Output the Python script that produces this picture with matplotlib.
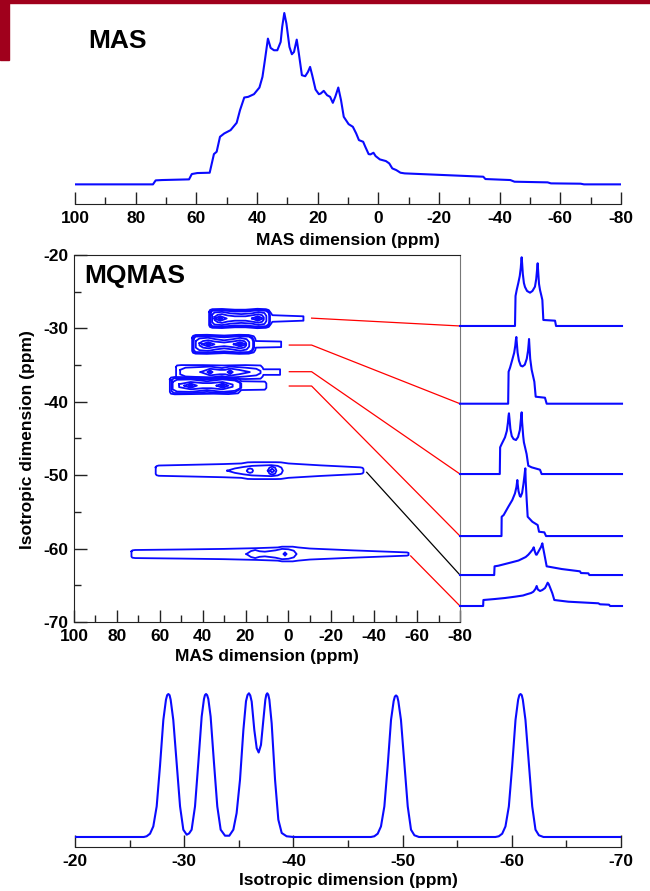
import numpy as np
import matplotlib.pyplot as plt
from matplotlib.patches import Rectangle

plt.rcParams['font.family'] = ['Liberation Sans', 'DejaVu Sans']
plt.rcParams['font.weight'] = 'bold'
plt.rcParams['axes.unicode_minus'] = False

W, H = 650, 891

# ---- 1D MAS spectrum (ppm, intensity a.u.)
mas_ppm = [100, 74.3, 73.4, 71.3, 62.4, 61.5, 59.7, 55.6, 54.9, 54.2, 53.3, 52.2, 50.8,
           48.7, 46.7, 45.6, 44.2, 42.9, 41.0, 39.2, 38.2, 37.4, 36.4, 35.5, 34.4, 33.3,
           32.2, 31.7, 31.0, 30.3, 29.3, 28.5, 27.8, 26.9, 26.2, 25.2, 24.1, 23.2, 22.5,
           21.8, 20.7, 19.6, 19.0, 18.0, 16.9, 15.9, 15.0, 14.2, 13.2, 12.3, 11.4, 9.8,
           8.4, 7.3, 6.4, 5.0, 4.3, 3.2, 2.6, 1.6, 0.9, -0.5, -2.5, -3.6, -4.6, -5.9,
           -7.3, -8.7, -34.6, -35.3, -43.5, -44.9, -55.8, -56.9, -66.7, -67.8, -80]
mas_int = [0, 0, 12, 13, 15, 31, 34, 35, 63, 91, 98, 143, 153,
           163, 185, 223, 261, 263, 271, 291, 323, 373, 438, 410, 403, 403,
           428, 473, 515, 483, 413, 391, 398, 435, 393, 328, 325, 338, 353,
           328, 285, 271, 273, 281, 268, 263, 245, 263, 291, 253, 203, 181,
           173, 153, 133, 128, 113, 91, 90, 95, 85, 75, 70, 63, 48, 43,
           35, 33, 23, 16, 13, 8, 6, 3, 2, 0, 0]

# ---- isotropic projection (ppm, % of max)
iso_ppm = [-20.0, -26.3, -26.56, -26.87, -27.17, -27.48, -27.78, -28.09, -28.33, -28.44,
           -28.55, -28.66, -28.76, -29.0, -29.31, -29.62, -29.92, -30.23, -30.45, -30.68,
           -30.99, -31.29, -31.6, -31.81, -31.9, -32.0, -32.1, -32.21, -32.42, -32.73,
           -33.03, -33.34, -33.74, -34.13, -34.5, -34.8, -35.11, -35.42, -35.66, -35.8,
           -35.93, -36.05, -36.18, -36.42, -36.64, -36.82, -37.03, -37.25, -37.43, -37.52,
           -37.61, -37.7, -37.8, -38.01, -38.32, -38.62, -38.93, -39.38, -40.0,
           -47.1, -47.41, -47.72, -48.02, -48.33, -48.63, -48.94, -49.18, -49.29, -49.40,
           -49.51, -49.61, -49.85, -50.16, -50.47, -50.77, -51.08, -51.5,
           -58.5, -58.81, -59.12, -59.42, -59.73, -60.03, -60.34, -60.58, -60.69, -60.80,
           -60.91, -61.01, -61.25, -61.56, -61.87, -62.17, -62.48, -62.9, -70.0]
iso_int = [0, 0, 0.5, 2.3, 7.4, 21.4, 49.3, 81.9, 96.0, 99.2,
           100, 99.2, 96.0, 81.9, 51.6, 21.4, 5.1, 1.6, 2.5, 5.1,
           21.4, 51.6, 84.2, 96.5, 99.2, 100, 99.2, 96.5, 84.2, 51.6,
           21.4, 5.1, 0.9, 0.9, 5.1, 16.7, 40.0, 74.9, 95.0, 99.3,
           100.5, 99.0, 94.7, 74.9, 62.1, 59.1, 64.4, 81.9, 96.0, 99.5,
           100.5, 99.5, 96.0, 79.5, 40.0, 12.1, 2.8, 0.5, 0,
           0, 0.5, 2.3, 7.4, 21.4, 49.3, 81.9, 95.0, 98.2, 99,
           98.2, 95.0, 81.9, 51.6, 21.4, 5.1, 1.2, 0,
           0, 0.5, 2.3, 7.4, 21.4, 49.3, 81.9, 96.0, 99.2, 100,
           99.2, 96.0, 81.9, 51.6, 21.4, 5.1, 1.2, 0, 0]

# ---- slices (ppm, height a.u.) and their baselines on the isotropic scale
slice_base = [-29.67, -40.26, -49.84, -58.29, -63.6, -67.82]
slice1_ppm = [100, 38.9, 38.3, 37.0, 35.2, 33.6, 32.5, 31.9, 31.5, 31.0, 30.2, 29.0, 27.8,
              25.5, 22.2, 19.5, 16.7, 15.3, 14.4, 13.7, 13.1, 12.2, 11.1, 9.5, 8.5, 7.4,
              -5.6, -6.7, -80]
slice1_int = [0, 0, 30, 36, 43, 50, 58, 65, 68.7, 63, 52, 43, 39,
              35, 33.3, 35, 39.3, 47, 56, 62.7, 54, 42, 36, 30, 26, 6,
              5.3, 0, 0]
slice2_ppm = [100, 46.5, 46.0, 44.4, 41.9, 39.8, 38.6, 37.9, 37.4, 36.9, 36.0, 34.5, 32.5,
              30.5, 28.0, 25.8, 24.4, 23.7, 23.3, 22.8, 22.0, 20.4, 17.4, 15.9, 5.6, 3.7, -80]
slice2_int = [0, 0, 32, 36, 44, 51, 58, 64, 66.7, 61, 51, 43, 38,
              37.3, 39, 45, 53, 60, 64.7, 57, 45, 34, 22, 7, 6, 0, 0]
slice3_ppm = [100, 55.8, 55.4, 53.7, 50.0, 48.0, 46.8, 46.1, 45.6, 45.0, 44.0, 42.5, 40.5,
              37.8, 35.5, 33.5, 32.3, 31.5, 31.0, 29.8, 29.0, 26.0, 24.1, 20.4, 11.1, 9.3, -80]
slice3_int = [0, 0, 26.7, 30, 36.7, 43, 51, 58, 60.7, 55, 45, 38, 35,
              34, 37, 44, 55, 61.7, 52, 38, 31.7, 20, 8.3, 6.7, 4.3, 0, 0]
slice4_ppm = [100, 53.9, 53.7, 51.5, 46.3, 41.9, 38.9, 37.3, 36.6, 36.3, 35.9, 35.0, 33.5,
              32.6, 31.0, 29.5, 28.3, 27.7, 27.4, 27.0, 25.9, 24.8, 19.6, 13.7, 12.2, 6.3,
              4.4, -80]
slice4_int = [0, 0, 19.3, 21, 29.3, 36, 42.7, 49, 54, 56, 52, 45, 40,
              39.3, 43, 52, 61, 66, 67.7, 55, 36, 19.3, 14.3, 11, 4.3, 3.7,
              0, 0]
slice5_ppm = [100, 62.0, 61.6, 57.4, 50, 42.6, 35, 31.5, 27, 24.1, 21.5, 19.3, 18.1, 17.0,
              15.6, 14.8, 12.5, 10.0, 9.0, 8.5, 7.8, 6.3, 3.7, -13.0, -33.3, -34.4, -42.6,
              -43.7, -80]
slice5_int = [0, 0, 8.7, 9.3, 11, 12.7, 14.5, 16, 18, 20.3, 23, 25.5, 27.7, 24,
              20.5, 20.3, 24, 28, 30.5, 31.7, 28, 21, 8.7, 6, 3.7, 2, 1.7,
              0, 0]
slice6_ppm = [100, 74.3, 74.0, 61.1, 50, 38.9, 30, 25.9, 21, 18.5, 16.2, 14.8, 13.5, 11.1,
              8.5, 5.5, 3.5, 2.6, 1.5, 0, -2.6, -4.8, -20.4, -53.7, -55.6, -65.6, -66.7, -80]
slice6_int = [0, 0, 6, 7, 8, 9.3, 10.5, 11.7, 13, 14.3, 17, 20, 16.5, 15,
              16, 18, 21.5, 23.3, 22, 18.7, 12.7, 6, 4.3, 2.7, 1.7, 1.3, 0, 0]
slice_scale = 7.34  # a.u. per ppm of the isotropic axis

# ---- contour outlines: centre (iso ppm) + levels of (MAS ppm, half height)
site_a_center = -28.65
site_a_levels = [
    ([37.0, 36.6, 35.5, 31, 25, 20, 14.5, 10.5, 9.2, 8.3, 7.5, -6.8, -7.0],
     [0.9, 1.15, 1.27, 1.3, 1.2, 1.2, 1.32, 1.27, 1.15, 0.8, 0.45, 0.3, 0.3]),
    ([36.6, 35.8, 31, 25, 20, 14.5, 10.3, 9.0, 8.6],
     [0.85, 1.15, 1.2, 1.08, 1.08, 1.2, 1.15, 0.9, 0.45]),
    ([36.3, 35.5, 31, 25, 20, 14.5, 10.5, 9.3, 9.0],
     [0.75, 1.05, 1.1, 0.95, 0.95, 1.1, 1.05, 0.8, 0.4]),
    ([35.6, 34.5, 31, 27, 22, 17, 14, 11.2, 10.3],
     [0.5, 0.82, 0.9, 0.7, 0.6, 0.7, 0.88, 0.75, 0.35]),
    ([34.5, 33, 31, 28.5, 25, 20, 16.5, 14, 12.3, 11.5],
     [0.2, 0.5, 0.6, 0.42, 0.3, 0.3, 0.45, 0.58, 0.45, 0.15]),
    ([34.5, 31.8, 28.8], [0, 0.32, 0]),
    ([17.0, 14.3, 11.8], [0, 0.32, 0]),
]
site_a_dots = [([33.0, 31.8, 30.6], [0, 0.2, 0]), ([15.5, 14.3, 13.1], [0, 0.2, 0])]

site_b_center = -32.17
site_b_levels = [
    ([44.9, 44.5, 43.3, 38, 30, 23, 18.5, 16.2, 15.5, 15.2, 3.4],
     [0.9, 1.15, 1.27, 1.3, 1.2, 1.3, 1.27, 1.1, 0.8, 0.45, 0.38]),
    ([44.6, 43.8, 38, 30, 23, 18.3, 16.8, 16.0],
     [0.85, 1.15, 1.2, 1.08, 1.2, 1.15, 0.9, 0.45]),
    ([44.2, 43.3, 38, 30, 23, 18.5, 17, 16.5],
     [0.75, 1.05, 1.1, 0.95, 1.1, 1.05, 0.8, 0.4]),
    ([43.2, 41.5, 37.5, 34, 30, 26, 22.5, 19.5, 18.3],
     [0.45, 0.8, 0.9, 0.7, 0.55, 0.7, 0.88, 0.7, 0.3]),
    ([41.5, 39.8, 37.4, 34.5, 30, 25.5, 22.6, 20.5, 19.7],
     [0.15, 0.45, 0.55, 0.38, 0.25, 0.4, 0.55, 0.42, 0.15]),
    ([40.3, 37.4, 34.5], [0, 0.3, 0]),
    ([25.5, 22.6, 19.7], [0, 0.3, 0]),
]
site_b_dots = [([38.6, 37.4, 36.2], [0, 0.2, 0]), ([23.8, 22.6, 21.4], [0, 0.2, 0])]

site_c_center = -35.95
site_c_levels = [
    ([52.4, 52.0, 50, 40, 30, 20, 13, 12, 11.7, 3.9],
     [0.7, 0.9, 0.95, 0.95, 0.9, 0.95, 0.9, 0.6, 0.38, 0.38]),
    ([50.5, 48, 40, 36.6, 31, 27.2, 20, 15, 13],
     [0.3, 0.6, 0.7, 0.75, 0.55, 0.75, 0.6, 0.45, 0.15]),
    ([41, 36.6, 32, 29.5, 27.2, 23, 18], [0, 0.45, 0.3, 0.3, 0.48, 0.3, 0]),
]
site_c_dots = [([38.0, 36.6, 35.2], [0, 0.28, 0]), ([28.6, 27.2, 25.8], [0, 0.3, 0])]

site_d_center = -37.8
site_d_levels = [
    ([55.3, 54.8, 53, 45, 35, 28, 23.5, 22, 11, 10.3],
     [0.85, 1.1, 1.18, 1.15, 1.1, 1.15, 1.05, 0.6, 0.55, 0.3]),
    ([54.6, 53.5, 45.6, 38, 30.7, 25, 22.5],
     [0.7, 1.0, 1.02, 0.85, 1.02, 0.9, 0.45]),
    ([54, 52, 45.6, 38, 30.7, 25, 22], [0.5, 0.8, 0.85, 0.6, 0.85, 0.7, 0.3]),
    ([51, 45.6, 40, 36, 30.7, 26], [0.2, 0.5, 0.35, 0.35, 0.5, 0.15]),
    ([48.5, 45.6, 42.7], [0, 0.3, 0]),
    ([33.5, 30.7, 28.0], [0, 0.3, 0]),
]
site_d_dots = [([46.8, 45.6, 44.4], [0, 0.22, 0]), ([31.9, 30.7, 29.5], [0, 0.22, 0])]

site_e_center = -49.38
site_e_levels = [
    ([61.9, 61.5, 60.5, 45, 30, 22, 19, 16, 6, 3.5, 0, -15, -33.5, -34.6, -35.0],
     [0.45, 0.62, 0.7, 0.8, 0.9, 0.98, 1.13, 1.15, 1.15, 1.13, 0.98, 0.72, 0.45, 0.38, 0.2]),
    ([28.5, 25, 21, 17, 8, 5, 3.3, 2.6], [0, 0.3, 0.5, 0.65, 0.75, 0.65, 0.42, 0]),
    ([19.3, 18.9, 17.9, 16.9, 16.5], [0, 0.22, 0.3, 0.22, 0]),
    ([9.6, 8.9, 7.6, 6.2, 5.6], [0, 0.4, 0.55, 0.4, 0]),
    ([8.6, 7.6, 6.6], [0, 0.28, 0]),
]
site_e_dots = []

site_f_center = -60.74
site_f_levels = [
    ([73.2, 72.8, 71.5, 50, 30, 15, 5, 3, -2, -4.5, -10, -30, -55.3, -56.0],
     [0.35, 0.5, 0.55, 0.62, 0.7, 0.8, 0.9, 1.0, 1.0, 0.9, 0.75, 0.5, 0.22, 0.15]),
    ([19.6, 17.5, 15.5, 13.5, 11, 6, 3, 0, -2.5, -3.8],
     [0, 0.4, 0.55, 0.38, 0.32, 0.5, 0.7, 0.65, 0.45, 0]),
]
site_f_dots = [([2.5, 1.6, 0.7], [0, 0.25, 0])]

# ---- connector lines (MAS ppm, iso ppm)
links_x = [[-10.8, -80], [-0.4, -10.8, -80], [-0.4, -10.8, -80], [-0.4, -10.8, -80],
           [-36.5, -80], [-57.0, -80]]
links_y = [[-28.6, -29.67], [-32.27, -32.27, -40.26], [-35.9, -35.9, -49.84],
           [-37.85, -37.85, -58.29], [-49.6, -63.6], [-61.0, -67.82]]
links_c = ['red', 'red', 'red', 'red', 'black', 'red']

BLUE = '#0a0aff'
TICKC = '#222222'


def box(x0, y0, x1, y1):
    return [x0 / W, 1 - y1 / H, (x1 - x0) / W, (y1 - y0) / H]


def style_ticks(ax):
    ax.tick_params(which='both', direction='in', color=TICKC, width=1.0,
                   labelsize=12.5, pad=5)
    ax.tick_params(which='major', length=9)
    ax.tick_params(which='minor', length=4.8)
    for lab in ax.get_xticklabels() + ax.get_yticklabels():
        lab.set_fontweight('bold')


def draw_site(ax, center, levels, dots):
    for ppm, hh in levels:
        p = np.asarray(ppm, float)
        h = np.asarray(hh, float)
        xs = np.concatenate([p, p[::-1], p[:1]])
        ys = np.concatenate([center + h, center - h[::-1], [center + h[0]]])
        ax.plot(xs, ys, color=BLUE, lw=1.3, solid_joinstyle='round')
    for ppm, hh in dots:
        p = np.asarray(ppm, float)
        h = np.asarray(hh, float)
        xs = np.concatenate([p, p[::-1]])
        ys = np.concatenate([center + h, center - h[::-1]])
        ax.fill(xs, ys, color=BLUE, lw=1.0)


fig = plt.figure(figsize=(W / 100, H / 100), dpi=100)

# slide decoration
fig.patches.append(Rectangle((0, 1 - 3 / H), 1, 3 / H, transform=fig.transFigure,
                             color='#a0001c', zorder=0))
fig.patches.append(Rectangle((0, 1 - 60 / H), 9 / W, 60 / H, transform=fig.transFigure,
                             color='#a0001c', zorder=0))

# ---- top: MAS
ax1 = fig.add_axes(box(75, 5, 621, 204))
ax1.plot(mas_ppm, mas_int, color=BLUE, lw=1.5)
ax1.set_xlim(100, -80)
ax1.set_ylim(-59, 539)
for s in ['top', 'left', 'right']:
    ax1.spines[s].set_visible(False)
ax1.spines['bottom'].set_color(TICKC)
ax1.set_yticks([])
ax1.set_xticks(np.arange(100, -81, -20))
ax1.set_xticks(np.arange(100, -81, -10), minor=True)
style_ticks(ax1)
ax1.patch.set_alpha(0)
fig.text(88 / W, 1 - 48 / H, 'MAS', fontsize=19, fontweight='bold', va='baseline')
fig.text(348 / W, 1 - 240 / H, 'MAS dimension (ppm)', fontsize=12.5, fontweight='bold',
         ha='center', va='center')

# ---- middle: MQMAS
ax2 = fig.add_axes(box(74, 255, 460, 622))
ax2.set_xlim(100, -80)
ax2.set_ylim(-70, -20)
draw_site(ax2, site_a_center, site_a_levels, site_a_dots)
draw_site(ax2, site_b_center, site_b_levels, site_b_dots)
draw_site(ax2, site_c_center, site_c_levels, site_c_dots)
draw_site(ax2, site_d_center, site_d_levels, site_d_dots)
draw_site(ax2, site_e_center, site_e_levels, site_e_dots)
draw_site(ax2, site_f_center, site_f_levels, site_f_dots)
for lx, ly, lc in zip(links_x, links_y, links_c):
    ax2.plot(lx, ly, color=lc, lw=0.9, clip_on=False)
ax2.set_xticks(np.arange(100, -81, -20))
ax2.set_xticks(np.arange(100, -81, -10), minor=True)
ax2.set_yticks(np.arange(-20, -71, -10))
ax2.set_yticks(np.arange(-20, -71, -5), minor=True)
style_ticks(ax2)
ax2.tick_params(axis='y', pad=4)
for s in ['top', 'left', 'bottom']:
    ax2.spines[s].set_color(TICKC)
ax2.spines['right'].set_color('#777777')
fig.text(84 / W, 1 - 283 / H, 'MQMAS', fontsize=19, fontweight='bold', va='baseline')
fig.text(267 / W, 1 - 657 / H, 'MAS dimension (ppm)', fontsize=12.5, fontweight='bold',
         ha='center', va='center')
fig.text(28 / W, 1 - 440 / H, 'Isotropic dimension (ppm)', fontsize=12.5,
         fontweight='bold', ha='center', va='center', rotation=90)

# ---- right: slices
ax3 = fig.add_axes(box(460, 255, 622, 622))
ax3.set_xlim(100, -80)
ax3.set_ylim(-70, -20)
slices_ppm = [slice1_ppm, slice2_ppm, slice3_ppm, slice4_ppm, slice5_ppm, slice6_ppm]
slices_int = [slice1_int, slice2_int, slice3_int, slice4_int, slice5_int, slice6_int]
for base, sp, si in zip(slice_base, slices_ppm, slices_int):
    ax3.plot(sp, base + np.asarray(si) / slice_scale, color=BLUE, lw=1.5, clip_on=False)
ax3.axis('off')

# ---- bottom: isotropic projection
ax4 = fig.add_axes(box(75, 680, 621, 847))
ax4.plot(iso_ppm, iso_int, color=BLUE, lw=1.5)
ax4.set_xlim(-20, -70)
ax4.set_ylim(-7, 109.8)
for s in ['top', 'left', 'right']:
    ax4.spines[s].set_visible(False)
ax4.spines['bottom'].set_color(TICKC)
ax4.set_yticks([])
ax4.set_xticks(np.arange(-20, -71, -10))
ax4.set_xticks(np.arange(-20, -71, -5), minor=True)
style_ticks(ax4)
ax4.patch.set_alpha(0)
fig.text(348 / W, 1 - 880 / H, 'Isotropic dimension (ppm)', fontsize=12.5,
         fontweight='bold', ha='center', va='center')

fig.savefig('out.png', dpi=100)
